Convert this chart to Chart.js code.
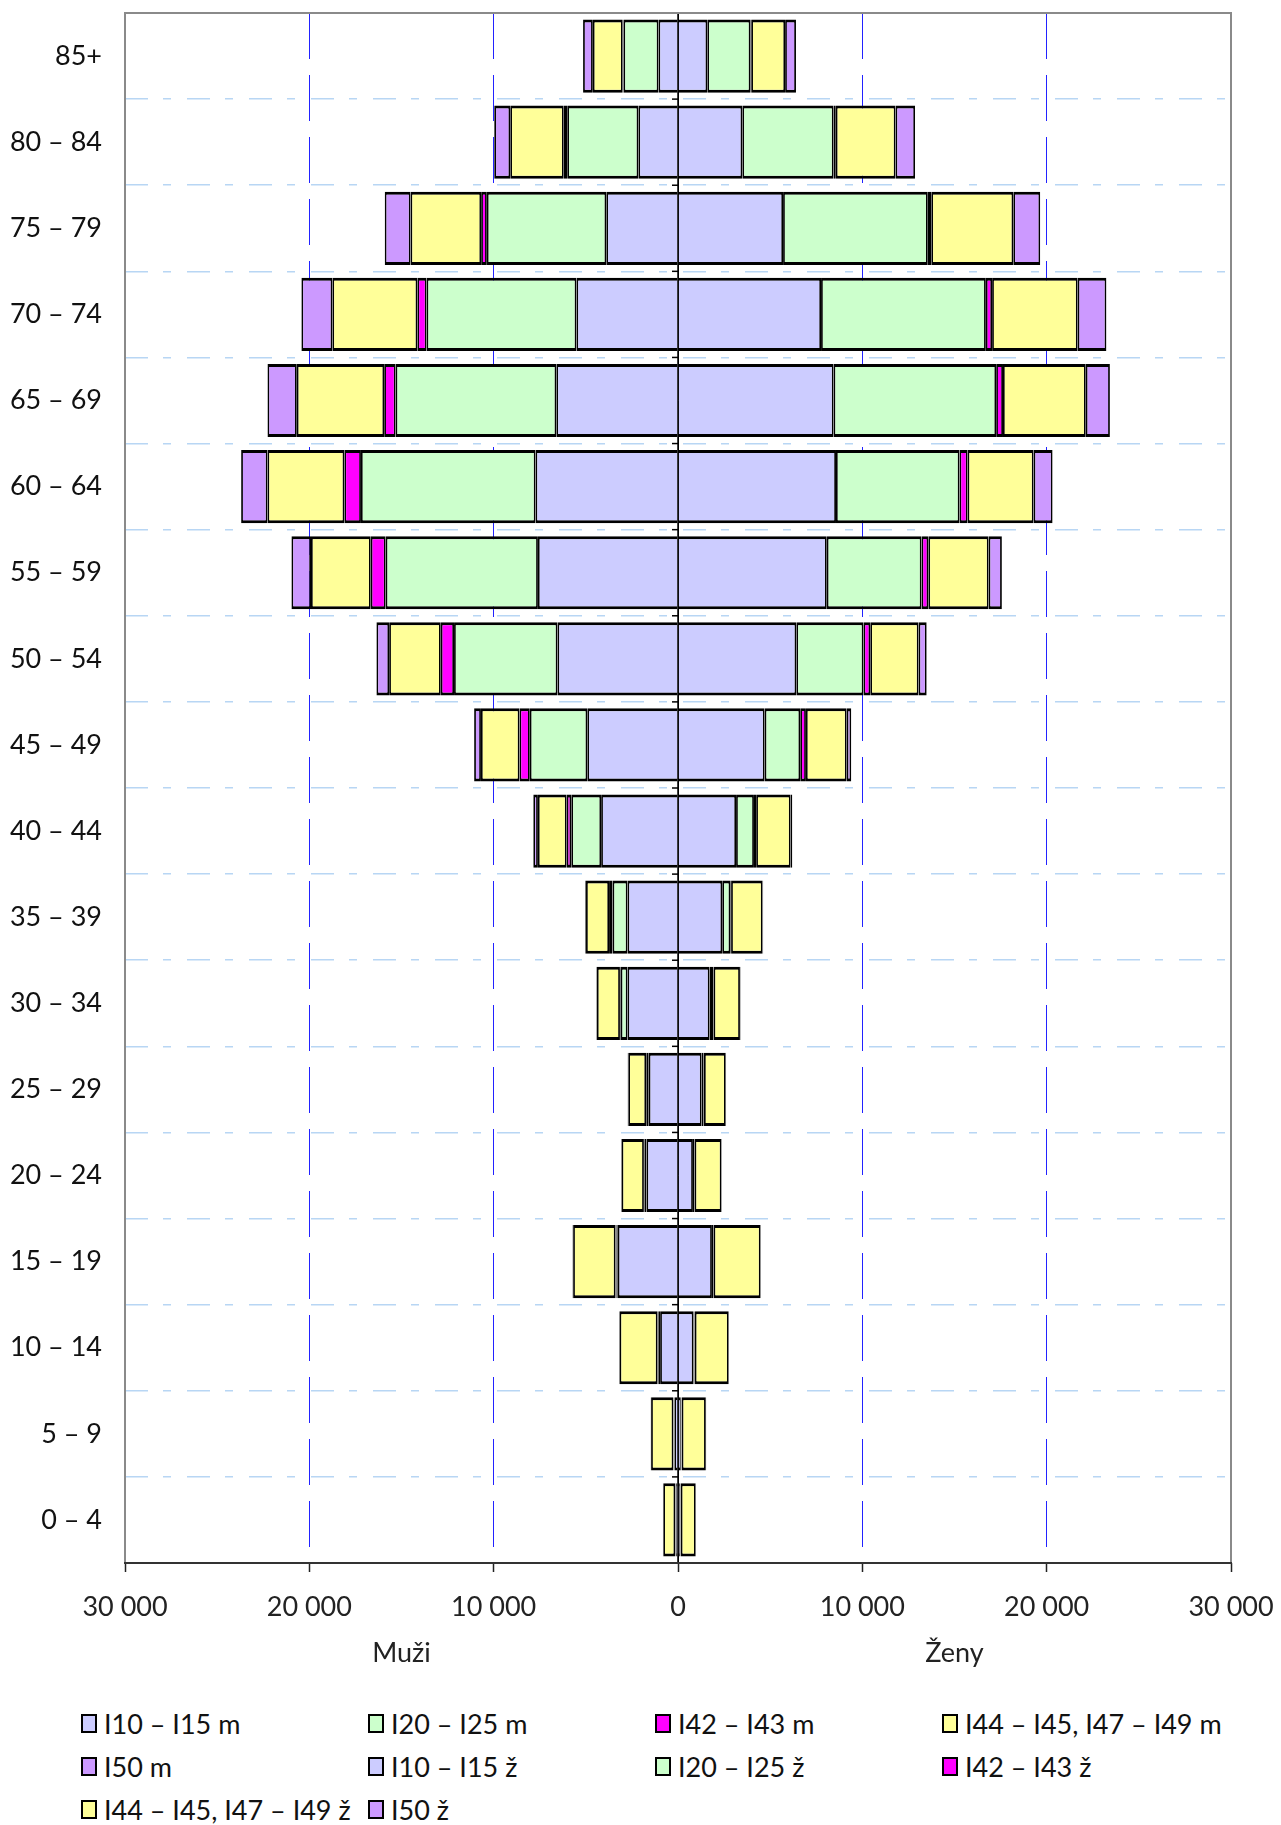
<!DOCTYPE html>
<html>
<head>
<meta charset="utf-8">
<script src="https://cdn.jsdelivr.net/npm/chart.js@4/dist/chart.umd.min.js"></script>
<style>
html,body{margin:0;padding:0;background:#fff;}
#wrap{position:relative;width:1281px;height:1825px;overflow:hidden;}
#box{position:absolute;left:0;top:0;width:1281px;height:1700px;}
#legend{position:absolute;left:81px;top:1702px;display:grid;grid-template-columns:repeat(4,287px);grid-auto-rows:43px;font-family:Lato,sans-serif;font-size:27px;color:#111;}
#legend .it{display:flex;align-items:center;white-space:nowrap;}
#legend .sw{display:inline-block;width:12px;height:15px;border:2px solid #000;margin-right:7px;box-sizing:content-box;}
</style>
</head>
<body>
<div id="wrap">
  <div id="box"><canvas id="c"></canvas></div>
  <div id="legend"></div>
</div>
<script>
// ---- data ----
const ageGroups = ['85+','80 – 84','75 – 79','70 – 74','65 – 69','60 – 64','55 – 59','50 – 54','45 – 49','40 – 44','35 – 39','30 – 34','25 – 29','20 – 24','15 – 19','10 – 14','5 – 9','0 – 4'];

const menI10I15 = [1060,2150,3890,5510,6600,7730,7600,6540,4920,4170,2740,2740,1590,1710,3270,970,190,100];
const menI20I25 = [1900,3860,6480,8130,8720,9470,8260,5610,3120,1620,810,370,100,100,60,100,40,30];
const menI42I43 = [40,190,310,500,620,900,810,720,560,250,190,40,40,40,60,40,20,20];
const menI44I49 = [1620,2900,3830,4610,4740,4170,3240,2800,2090,1560,1250,1250,970,1210,2300,2060,1210,650];
const menI50    = [530,870,1400,1680,1590,1430,1060,690,370,250,40,30,30,30,30,30,20,20];

const womenI10I15 = [1590,3490,5700,7760,8440,8570,8070,6420,4700,3150,2400,1710,1280,810,1840,840,150,100];
const womenI20I25 = [2340,4950,7850,8940,8820,6700,5140,3640,1930,970,440,190,100,60,60,40,30,30];
const womenI42I43 = [40,120,190,340,370,440,370,370,310,120,40,30,30,30,30,30,20,20];
const womenI44I49 = [1840,3240,4450,4640,4490,3580,3270,2620,2210,1870,1710,1430,1180,1460,2550,1840,1310,810];
const womenI50    = [590,1060,1460,1560,1310,1030,720,440,250,90,30,30,20,20,20,20,20,20];

const menLabels = ['I10 – I15 m','I20 – I25 m','I42 – I43 m','I44 – I45, I47 – I49 m','I50 m'];
const womenLabels = ['I10 – I15 ž','I20 – I25 ž','I42 – I43 ž','I44 – I45, I47 – I49 ž','I50 ž'];
const seriesColors = ['#CCCCFF','#CCFFCC','#FF00FF','#FFFF99','#CC99FF'];
const xTickValues = [-30000,-20000,-10000,0,10000,20000,30000];
const sideTitles = ['Muži','Ženy'];
const sideTitleValues = [-15000,15000];

// ---- build ----
const menSeries = [menI10I15,menI20I25,menI42I43,menI44I49,menI50];
const womenSeries = [womenI10I15,womenI20I25,womenI42I43,womenI44I49,womenI50];
const datasets = [];
menSeries.forEach((arr,i)=>datasets.push({label:menLabels[i],data:arr.map(v=>-v),backgroundColor:seriesColors[i],borderSkipped:i===0?'start':false}));
womenSeries.forEach((arr,i)=>datasets.push({label:womenLabels[i],data:arr.slice(),backgroundColor:seriesColors[i],borderSkipped:i===0?'start':false}));

function fmt(v){return String(Math.abs(v)).replace(/\B(?=(\d{3})+(?!\d))/g,'\u00A0');}

const FONT = 'Lato';

const decor = {
  id:'decor',
  afterDatasetsDraw(chart){
    const {ctx, chartArea:a, scales:{x,y}} = chart;
    const x0 = x.getPixelForValue(0);
    ctx.save();
    ctx.strokeStyle = '#000';
    ctx.lineWidth = 1.5;
    ctx.beginPath();
    ctx.moveTo(x0, a.top); ctx.lineTo(x0, a.bottom);
    ctx.stroke();
    // small ticks at category boundaries on the zero axis
    for (let i=1;i<ageGroups.length;i++){
      const yy = (y.getPixelForTick(i-1)+y.getPixelForTick(i))/2;
      ctx.beginPath(); ctx.moveTo(x0-6,yy); ctx.lineTo(x0,yy); ctx.stroke();
    }
    // plot frame
    ctx.strokeStyle = '#8a8a8a';
    ctx.lineWidth = 2;
    ctx.beginPath();
    ctx.moveTo(a.left, a.bottom); ctx.lineTo(a.left, a.top); ctx.lineTo(a.right, a.top); ctx.lineTo(a.right, a.bottom);
    ctx.stroke();
    ctx.strokeStyle = '#333';
    ctx.beginPath();
    ctx.moveTo(a.left-1, a.bottom); ctx.lineTo(a.right+1, a.bottom);
    ctx.stroke();
    ctx.restore();
  },
  afterDraw(chart){
    const {ctx, scales:{x}} = chart;
    ctx.save();
    ctx.font = '27px ' + FONT;
    ctx.fillStyle = '#222';
    ctx.textAlign = 'center';
    ctx.textBaseline = 'middle';
    sideTitles.forEach((t,i)=>ctx.fillText(t, x.getPixelForValue(sideTitleValues[i]), 1653));
    ctx.restore();
  }
};

const htmlLegend = {
  id:'htmlLegend',
  afterUpdate(chart){
    const el = document.getElementById('legend');
    el.innerHTML = '';
    chart.data.datasets.forEach(ds=>{
      const it = document.createElement('div'); it.className='it';
      const sw = document.createElement('span'); sw.className='sw'; sw.style.background = ds.backgroundColor;
      const tx = document.createElement('span'); tx.textContent = ds.label;
      it.appendChild(sw); it.appendChild(tx); el.appendChild(it);
    });
  }
};

new Chart(document.getElementById('c'), {
  type:'bar',
  data:{labels:ageGroups, datasets},
  options:{
    indexAxis:'y',
    responsive:true,
    maintainAspectRatio:false,
    animation:false,
    layout:{padding:{left:0,right:50,top:13,bottom:0}},
    datasets:{bar:{barPercentage:0.85,categoryPercentage:1,borderColor:'#000',borderWidth:{top:3,bottom:3,left:1.8,right:1.8}}},
    plugins:{legend:{display:false},tooltip:{enabled:false}},
    scales:{
      x:{
        stacked:true,
        min:-30000,max:30000,
        afterBuildTicks:s=>{s.ticks = xTickValues.map(v=>({value:v}));},
        grid:{
          color:c=>{const v=c.tick&&c.tick.value; if(v===-30000||v===30000) return 'rgba(0,0,0,0)'; if(v===0) return '#000'; return '#2222FF';},
          lineWidth:1,
          tickLength:9,
          tickColor:'#222',
          tickWidth:1.5
        },
        border:{display:false,dash:c=>(c.tick&&c.tick.value===0)?[]:[46,16]},
        ticks:{font:{family:FONT,size:27},color:'#222',padding:19,autoSkip:false,maxRotation:0,callback:v=>fmt(v)},
        afterFit:s=>{s.height = 137; s.paddingLeft = 0; s.paddingRight = 0;}
      },
      y:{
        stacked:true,
        grid:{color:'#B8D6F4',lineWidth:1.5,drawTicks:false,offset:true},
        border:{display:false,dash:[23,15,8,16]},
        ticks:{font:{family:FONT,size:27},color:'#111',padding:23},
        afterFit:s=>{s.width = 125; s.paddingTop = 0; s.paddingBottom = 0;}
      }
    }
  },
  plugins:[decor, htmlLegend]
});
</script>
</body>
</html>
